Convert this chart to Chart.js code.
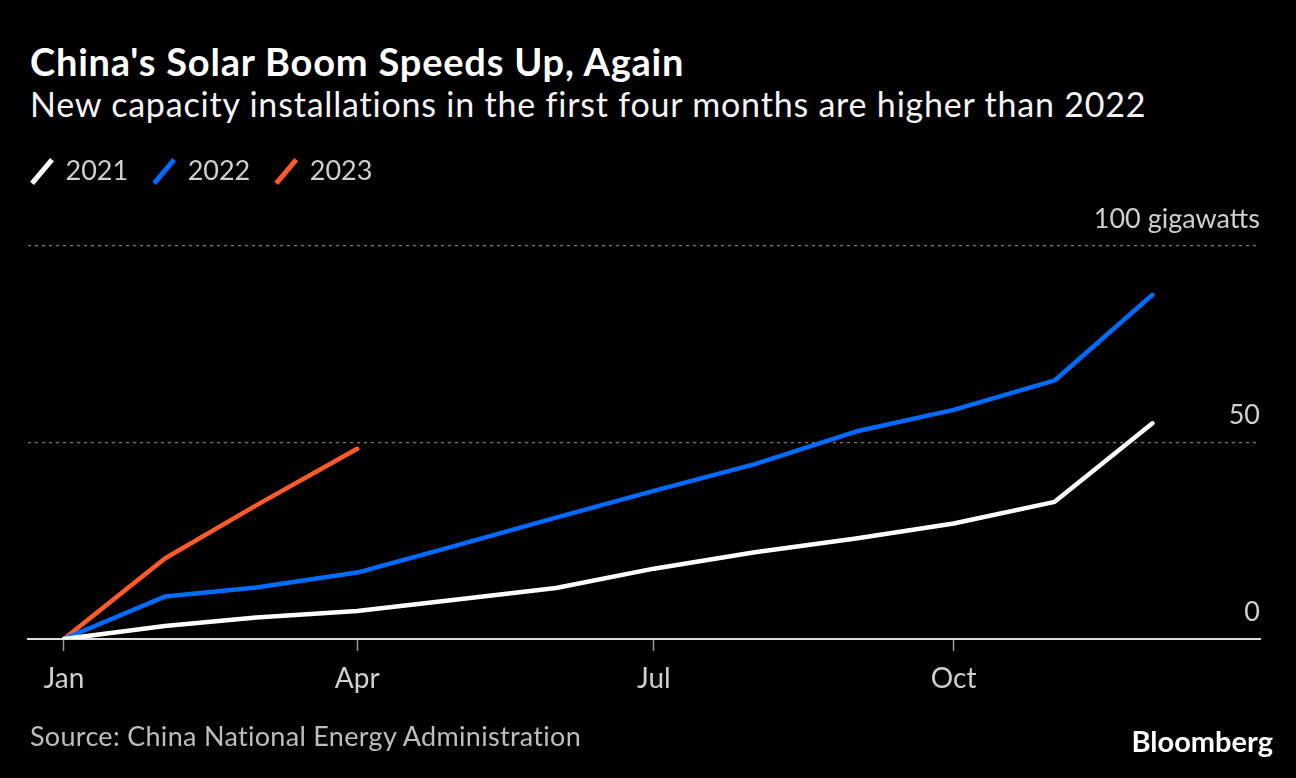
<!DOCTYPE html>
<html>
<head>
<meta charset="utf-8">
<title>China's Solar Boom Speeds Up, Again</title>
<script src="https://cdn.jsdelivr.net/npm/chart.js@4.4.0/dist/chart.umd.min.js"></script>
<style>
  html, body { margin: 0; padding: 0; background: #000; }
  body { width: 1296px; height: 778px; position: relative; overflow: hidden; font-family: Lato, sans-serif; }
  #wrap { position: absolute; left: 0; top: 0; width: 1296px; height: 778px; }
  .title { position: absolute; left: 30px; top: 39px; font-size: 38px; line-height: 44px; font-weight: 700; color: #fff; white-space: nowrap; letter-spacing: 0.8px; }
  .subtitle { position: absolute; left: 30px; top: 84px; font-size: 34px; line-height: 40px; color: #f4f4f4; white-space: nowrap; letter-spacing: 0.8px; }
  .source { position: absolute; left: 30px; top: 720px; font-size: 27px; line-height: 32px; color: #bdbdbd; white-space: nowrap; letter-spacing: 0.3px; }
  .logo { position: absolute; right: 23px; top: 724px; font-size: 29px; line-height: 34px; font-weight: 700; color: #fff; }
</style>
</head>
<body>
<div class="title">China's Solar Boom Speeds Up, Again</div>
<div class="subtitle">New capacity installations in the first four months are higher than 2022</div>
<div id="wrap"><canvas id="lineChart"></canvas></div>
<div class="source">Source: China National Energy Administration</div>
<div class="logo">Bloomberg</div>

<script>
// cumulative new solar capacity, GW
const months = ['Jan', 'Feb', 'Mar', 'Apr', 'May', 'Jun', 'Jul', 'Aug', 'Sep', 'Oct', 'Nov', 'Dec'];
const solar2021 = [0, 3.3, 5.5, 7.1, 10.0, 13.0, 17.9, 22.1, 25.6, 29.4, 34.9, 54.9];
const solar2022 = [0, 10.8, 13.1, 16.9, 23.7, 30.9, 37.7, 44.5, 52.8, 58.3, 65.8, 87.6];
const solar2023 = [0, 20.5, 34.0, 48.4];
const xTickLabels = ['Jan', 'Apr', 'Jul', 'Oct'];
const yTicks = [0, 50, 100];

// x axis is a day-of-year axis, points sit on the first of each month
function dayOfYear(month) {
    return (Date.UTC(2021, months.indexOf(month), 1) - Date.UTC(2021, 0, 1)) / 86400000;
}
function toPoints(values) {
    return values.map((v, i) => ({ x: dayOfYear(months[i]), y: v }));
}

function lineStyle(color) {
    return {
        borderColor: color,
        backgroundColor: color,
        borderWidth: 4.5,
        borderCapStyle: 'round',
        borderJoinStyle: 'round',
        pointRadius: 0,
        pointHoverRadius: 0,
        pointBorderWidth: 5,
        pointStyle: 'line',
        pointRotation: -50,
        tension: 0
    };
}

Chart.defaults.font.family = 'Lato, sans-serif';
Chart.defaults.color = '#cfcfcf';

const ctx = document.getElementById('lineChart');

new Chart(ctx, {
    type: 'line',
    data: {
        datasets: [
            Object.assign({ label: '2021', data: toPoints(solar2021) }, lineStyle('#ffffff')),
            Object.assign({ label: '2022', data: toPoints(solar2022) }, lineStyle('#006cff')),
            Object.assign({ label: '2023', data: toPoints(solar2023) }, lineStyle('#ff5a28'))
        ]
    },
    options: {
        responsive: true,
        maintainAspectRatio: false,
        animation: false,
        layout: { padding: { left: 6, right: 36, top: 132, bottom: 0 } },
        plugins: {
            legend: {
                position: 'top',
                align: 'start',
                labels: {
                    usePointStyle: true,
                    boxWidth: 20,
                    boxHeight: 22,
                    padding: 26,
                    color: '#cfcfcf',
                    font: { size: 27 }
                }
            },
            tooltip: { enabled: false }
        },
        scales: {
            x: {
                type: 'linear',
                min: -11,
                max: 367,
                afterBuildTicks: (scale) => {
                    scale.ticks = xTickLabels.map(m => ({ value: dayOfYear(m) }));
                },
                afterFit: (scale) => { scale.height = 139; },
                ticks: {
                    callback: (value, i) => xTickLabels[i],
                    color: '#cfcfcf',
                    font: { size: 28 },
                    padding: 11,
                    maxRotation: 0,
                    autoSkip: false
                },
                grid: {
                    drawOnChartArea: false,
                    drawTicks: true,
                    tickLength: 12,
                    tickColor: '#9a9a9a',
                    tickWidth: 1.5
                },
                border: { display: true, color: '#dcdcdc', width: 2 }
            },
            y: {
                position: 'right',
                min: 0,
                max: 113,
                afterBuildTicks: (scale) => {
                    scale.ticks = yTicks.map(v => ({ value: v }));
                },
                ticks: {
                    mirror: true,
                    padding: 0,
                    labelOffset: -27,
                    color: '#cfcfcf',
                    font: { size: 27 },
                    callback: (value) => value === 100 ? '100 gigawatts' : value
                },
                grid: {
                    drawTicks: false,
                    lineWidth: 1.3,
                    color: (c) => (c.tick && c.tick.value === 0) ? 'rgba(0,0,0,0)' : '#7a7a7a'
                },
                border: { display: false, dash: [3, 4] }
            },
            // empty left axis, only keeps the plot area off the left edge
            pad: {
                type: 'linear',
                axis: 'y',
                position: 'left',
                display: true,
                grid: { display: false },
                ticks: { display: false },
                border: { display: false },
                afterFit: (scale) => { scale.width = 22; }
            }
        }
    }
});
</script>
</body>
</html>
